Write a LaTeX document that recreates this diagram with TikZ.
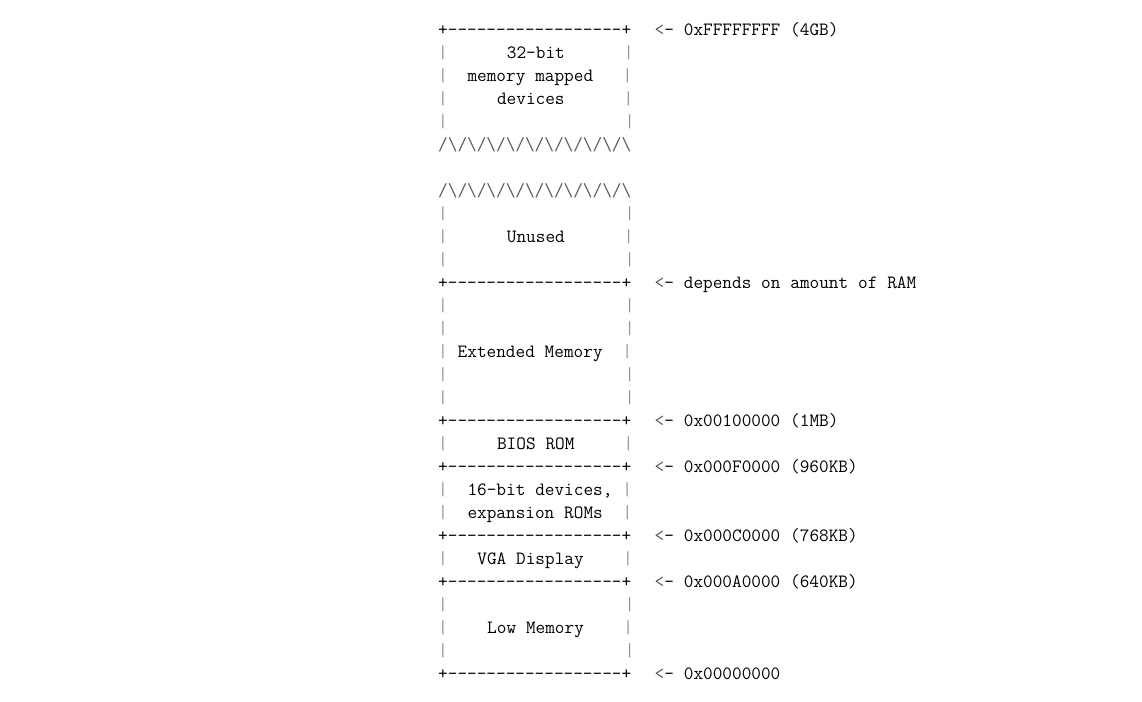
\documentclass[tikz,border=0pt]{standalone}
\definecolor{pipe}{gray}{0.58}
\definecolor{zig}{gray}{0.35}
\newcommand\Pp{\textcolor{pipe}{|}}
\newcommand\Dd{-\kern0pt}
\newcommand\Hline{+\Dd\Dd\Dd\Dd\Dd\Dd\Dd\Dd\Dd\Dd\Dd\Dd\Dd\Dd\Dd\Dd\Dd\Dd+}
\newcommand\Zg{/\kern0pt\textbackslash\kern0pt}
\newcommand\Zig{\textcolor{zig}{\Zg\Zg\Zg\Zg\Zg\Zg\Zg\Zg\Zg\Zg}}
\newcommand\Sp{~~~~~~~~~~~~~~~~~~}
\newcommand\Empty{\Pp\Sp\Pp}
\newcommand\Arr{\textcolor{zig}{<}\kern0pt-~}
\newcommand\FixSpace{\def~{\kern9.84pt\relax}}
\tikzset{
  row/.style={anchor=base west, inner sep=0pt, font=\fontsize{18.74}{23}\ttfamily\FixSpace},
  lab/.style={row}
}
\begin{document}
\begin{tikzpicture}[x=1pt,y=-1pt]
\useasboundingbox[fill=white] (0,0) rectangle (1142,701);
% rows: centre y = 29 + 23k, baseline = centre + 6.5
\node[row] (r0)  at (438,35.5)  {\Hline};
\node[lab] (a0)  at (654.5,35.5) {\Arr0xFFFFFFFF~(4GB)};
\node[row] (r1)  at (438,58.5)  {\Pp~~~~~~32-bit~~~~~~\Pp};
\node[row] (r2)  at (438,81.5)  {\Pp~~memory~mapped~~~\Pp};
\node[row] (r3)  at (438,104.5) {\Pp~~~~~devices~~~~~~\Pp};
\node[row] (r4)  at (438,127.5) {\Empty};
\node[row] (r5)  at (438,150.5) {\Zig};
\node[row] (r7)  at (438,196.5) {\Zig};
\node[row] (r8)  at (438,219.5) {\Empty};
\node[row] (r9)  at (438,242.5) {\Pp~~~~~~Unused~~~~~~\Pp};
\node[row] (r10) at (438,265.5) {\Empty};
\node[row] (r11) at (438,288.5) {\Hline};
\node[lab] (a11) at (654.5,288.5) {\Arr depends~on~amount~of~RAM};
\node[row] (r12) at (438,311.5) {\Empty};
\node[row] (r13) at (438,334.5) {\Empty};
\node[row] (r14) at (438,357.5) {\Pp~Extended~Memory~~\Pp};
\node[row] (r15) at (438,380.5) {\Empty};
\node[row] (r16) at (438,403.5) {\Empty};
\node[row] (r17) at (438,426.5) {\Hline};
\node[lab] (a17) at (654.5,426.5) {\Arr0x00100000~(1MB)};
\node[row] (r18) at (438,449.5) {\Pp~~~~~BIOS~ROM~~~~~\Pp};
\node[row] (r19) at (438,472.5) {\Hline};
\node[lab] (a19) at (654.5,472.5) {\Arr0x000F0000~(960KB)};
\node[row] (r20) at (438,495.5) {\Pp~~16-bit~devices,~\Pp};
\node[row] (r21) at (438,518.5) {\Pp~~expansion~ROMs~~\Pp};
\node[row] (r22) at (438,541.5) {\Hline};
\node[lab] (a22) at (654.5,541.5) {\Arr0x000C0000~(768KB)};
\node[row] (r23) at (438,564.5) {\Pp~~~VGA~Display~~~~\Pp};
\node[row] (r24) at (438,587.5) {\Hline};
\node[lab] (a24) at (654.5,587.5) {\Arr0x000A0000~(640KB)};
\node[row] (r25) at (438,610.5) {\Empty};
\node[row] (r26) at (438,633.5) {\Pp~~~~Low~Memory~~~~\Pp};
\node[row] (r27) at (438,656.5) {\Empty};
\node[row] (r28) at (438,679.5) {\Hline};
\node[lab] (a28) at (654.5,679.5) {\Arr0x00000000};
\end{tikzpicture}
\end{document}
